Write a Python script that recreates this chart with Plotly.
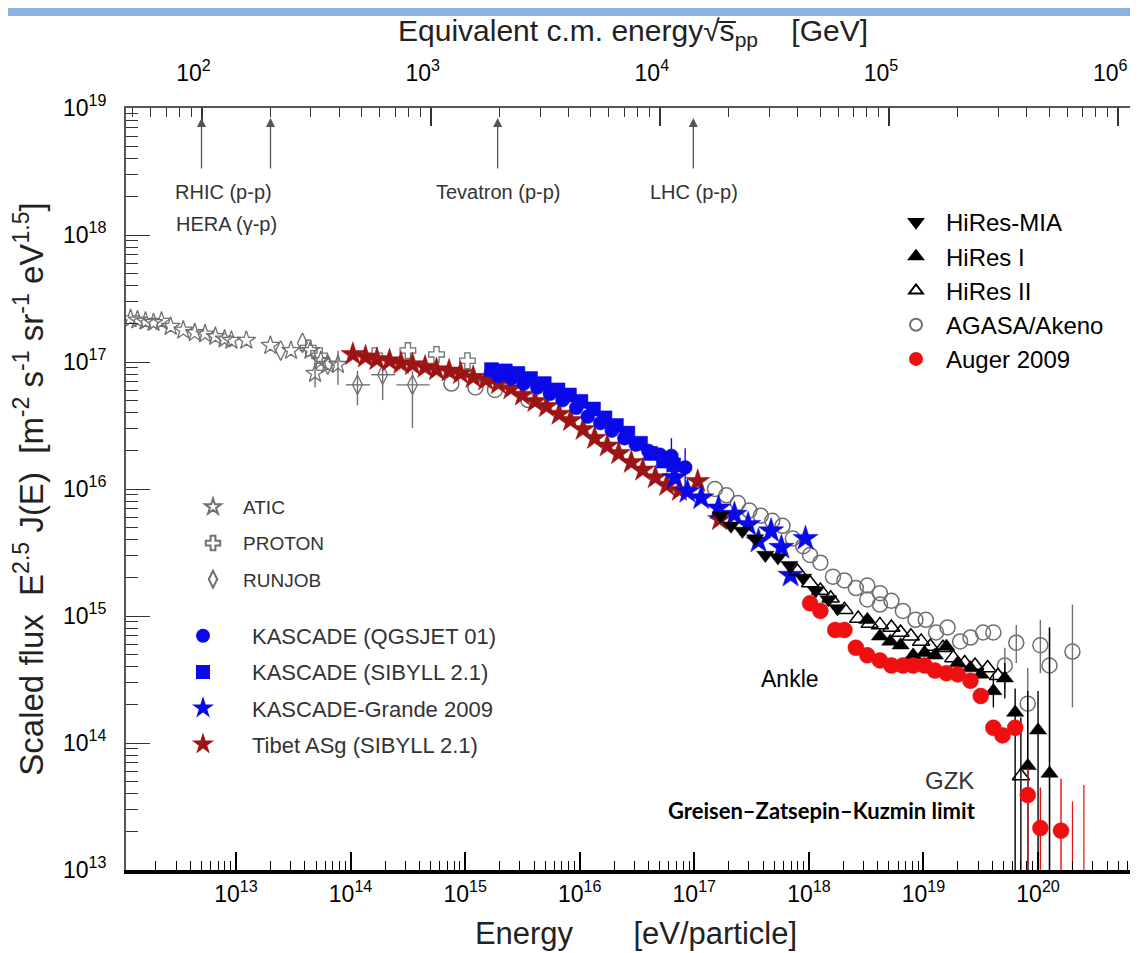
import numpy as np
import plotly.graph_objects as go

# ---------------- data: log10(E / eV) and log10(E^2.5 J(E)) ----------------
atic_logE = [12.08, 12.14, 12.21, 12.28, 12.35, 12.43, 12.54, 12.64, 12.73, 12.82,
             12.90, 12.96, 13.09, 13.30, 13.48, 13.65, 13.69, 13.74, 13.80, 13.89]
atic_logF = [17.34, 17.33, 17.32, 17.31, 17.32, 17.28, 17.25, 17.23, 17.22, 17.20,
             17.18, 17.17, 17.17, 17.13, 17.09, 17.09, 16.91, 17.01, 16.98, 16.98]
atic_hi = [None] * 16 + [17.06, None, None, 17.09]
atic_lo = [None] * 16 + [16.80, None, None, 16.82]

proton_logE = [13.63, 13.73, 14.21, 14.50, 14.75, 15.02]
proton_logF = [17.11, 17.05, 17.05, 17.09, 17.06, 17.01]

runjob_logE = [13.39, 13.58, 13.80, 14.06, 14.28, 14.54]
runjob_logF = [17.09, 17.15, 16.98, 16.82, 16.90, 16.82]
runjob_hi = [None, None, None, 16.93, 16.95, 16.93]
runjob_lo = [None, None, None, 16.66, 16.70, 16.48]
runjob_Ehi = [None, None, None, 14.17, 14.39, 14.69]
runjob_Elo = [None, None, None, 13.96, 14.18, 14.40]

agasa_logE = [14.88, 15.09, 15.26, 15.55,
              17.18, 17.28, 17.38, 17.48, 17.58, 17.68, 17.77, 17.86, 17.95, 18.01,
              18.10, 18.21, 18.31, 18.41, 18.51, 18.51, 18.62, 18.62, 18.72, 18.82,
              18.93, 19.02, 19.11, 19.21, 19.32, 19.41, 19.52, 19.61, 19.71, 19.81,
              19.91, 20.02, 20.10, 20.30]
agasa_logF = [16.83, 16.80, 16.78, 16.70,
              16.00, 15.95, 15.89, 15.83, 15.79, 15.75, 15.71, 15.61, 15.55, 15.48,
              15.42, 15.31, 15.28, 15.22, 15.24, 15.13, 15.18, 15.09, 15.12, 15.04,
              14.97, 14.97, 14.87, 14.91, 14.80, 14.83, 14.87, 14.87, 14.61, 14.79,
              14.31, 14.77, 14.61, 14.72]
agasa_hi = [None] * 32 + [14.75, 14.93, 14.59, 14.97, 14.91, 15.09]
agasa_lo = [None] * 32 + [14.43, 14.63, 12.50, 14.55, 12.50, 14.28]

tibet_logE = [14.02, 14.13, 14.23, 14.34, 14.44, 14.54, 14.65, 14.75, 14.86, 14.96,
              15.07, 15.18, 15.29, 15.40, 15.50, 15.61, 15.71, 15.82, 15.92, 16.03,
              16.13, 16.24, 16.34, 16.45, 16.55, 16.66, 16.76, 16.87, 17.03, 17.22]
tibet_logF = [17.06, 17.04, 17.02, 17.01, 16.99, 16.98, 16.96, 16.94, 16.93, 16.91,
              16.88, 16.86, 16.83, 16.79, 16.74, 16.69, 16.65, 16.59, 16.54, 16.47,
              16.40, 16.34, 16.28, 16.21, 16.15, 16.09, 16.03, 15.99, 16.06, 15.76]

kq_logE = [15.29, 15.40, 15.51, 15.63, 15.74, 15.85, 15.97, 16.07, 16.18, 16.28,
           16.39, 16.49, 16.60, 16.70, 16.80, 16.92]
kq_logF = [16.89, 16.87, 16.83, 16.80, 16.75, 16.70, 16.64, 16.57, 16.52, 16.46,
           16.40, 16.35, 16.30, 16.27, 16.26, 16.17]
kq_hi = [None] * 14 + [16.40, 16.32]
kq_lo = [None] * 14 + [16.09, 16.01]

ks_logE = [15.23, 15.35, 15.46, 15.57, 15.69, 15.81, 15.91, 16.01, 16.12, 16.22,
           16.32, 16.42, 16.53, 16.62, 16.73, 16.82]
ks_logF = [16.94, 16.93, 16.91, 16.87, 16.83, 16.78, 16.74, 16.69, 16.63, 16.56,
           16.50, 16.44, 16.36, 16.28, 16.22, 16.19]

kg_logE = [16.83, 16.94, 17.06, 17.21, 17.35, 17.47, 17.56, 17.67, 17.76, 17.84, 17.97]
kg_logF = [16.09, 15.98, 15.93, 15.85, 15.80, 15.72, 15.59, 15.67, 15.54, 15.32, 15.61]

mia_logE = [17.23, 17.32, 17.42, 17.53, 17.62, 17.73, 17.83, 17.95, 18.06, 18.17, 18.25]
mia_logF = [15.79, 15.71, 15.67, 15.61, 15.48, 15.46, 15.40, 15.30, 15.20, 15.13, 15.06]

h2_logE = [17.90, 18.01, 18.10, 18.19, 18.31, 18.43, 18.53, 18.62, 18.72, 18.80,
           18.89, 18.98, 19.06, 19.17, 19.26, 19.36, 19.45, 19.56, 19.65, 19.85]
h2_logF = [15.35, 15.26, 15.20, 15.14, 15.05, 14.98, 14.94, 14.93, 14.91, 14.87,
           14.84, 14.80, 14.76, 14.75, 14.67, 14.63, 14.61, 14.59, 14.53, 13.74]
h2_hi = [None] * 19 + [14.20]
h2_lo = [None] * 19 + [12.50]

h1_logE = [18.51, 18.62, 18.71, 18.80, 18.91, 19.01, 19.10, 19.20, 19.30, 19.41,
           19.50, 19.61, 19.71, 19.80, 19.91, 20.00, 20.10]
h1_logF = [14.97, 14.84, 14.80, 14.77, 14.69, 14.71, 14.69, 14.76, 14.63, 14.59,
           14.54, 14.41, 14.51, 14.24, 13.82, 14.10, 13.76]
h1_hi = [None] * 11 + [14.55, 14.63, 14.43, 14.41, 14.41, 14.91]
h1_lo = [None] * 11 + [14.28, 14.35, 12.50, 12.50, 12.50, 12.50]

auger_logE = [18.01, 18.10, 18.23, 18.31, 18.41, 18.51, 18.62, 18.72, 18.82, 18.91,
              19.01, 19.10, 19.20, 19.30, 19.41, 19.50, 19.61, 19.69, 19.80, 19.91,
              20.02, 20.20]
auger_logF = [15.10, 15.04, 14.89, 14.89, 14.75, 14.69, 14.65, 14.61, 14.61, 14.61,
              14.61, 14.57, 14.55, 14.54, 14.49, 14.37, 14.12, 14.06, 14.12, 13.59,
              13.33, 13.31]
auger_hi = [None] * 19 + [13.80, 13.65, 13.72]
auger_lo = [None] * 19 + [12.50, 12.50, 12.50]
auger_ul_logE = [20.30, 20.40]
auger_ul_logF = [13.54, 13.67]

collider_names = ["HERA", "RHIC", "Tevatron", "LHC"]
collider_sqrts = [100, 200, 1960, 14000]  # GeV

x_tick_exp = [13, 14, 15, 16, 17, 18, 19, 20]
y_tick_exp = [13, 14, 15, 16, 17, 18, 19]
top_tick_exp = [2, 3, 4, 5, 6]

# ---------------- helpers ----------------
FONT = "Liberation Sans"
MP2 = 2.0  # 2 m_p [GeV], rounded as in the original conversion


def lin(v):
    return [10 ** a for a in v]


def err(logv, hi, lo):
    plus = [None if h is None else 10 ** h - 10 ** f for f, h in zip(logv, hi)]
    minus = [None if l is None else 10 ** f - 10 ** l for f, l in zip(logv, lo)]
    return dict(type="data", symmetric=False, array=plus, arrayminus=minus)


GRAY = "#707070"
DRED = "#9c1515"
BLUE = "#0a0ae8"
RED = "#ee1010"

fig = go.Figure()


def add(name, lx, ly, symbol, color, size, legend, rank, lw=1.3, ey=None, ex=None,
        ecolor=None):
    kw = {}
    if ey is not None:
        kw["error_y"] = dict(ey, color=ecolor or color, thickness=1.4, width=0)
    if ex is not None:
        kw["error_x"] = dict(ex, color=ecolor or color, thickness=1.4, width=0)
    fig.add_trace(go.Scatter(
        x=lin(lx), y=lin(ly), mode="markers", name=name, legend=legend,
        legendrank=rank, legendgroup=name,
        marker=dict(symbol=symbol, size=size, color=color,
                    line=dict(width=lw, color=color)), **kw))


add("ATIC", atic_logE, atic_logF, "star-open", GRAY, 14, "legend2", 1,
    ey=err(atic_logF, atic_hi, atic_lo))
add("PROTON", proton_logE, proton_logF, "cross-open", GRAY, 13, "legend2", 2)
add("RUNJOB", runjob_logE, runjob_logF, "diamond-tall-open", GRAY, 14, "legend2", 3,
    ey=err(runjob_logF, runjob_hi, runjob_lo), ex=err(runjob_logE, runjob_Ehi, runjob_Elo))
add("AGASA/Akeno", agasa_logE, agasa_logF, "circle-open", GRAY, 15, "legend", 4, lw=1.5,
    ey=err(agasa_logF, agasa_hi, agasa_lo))
add("Tibet ASg (SIBYLL 2.1)", tibet_logE, tibet_logF, "star", DRED, 18, "legend3", 4, lw=0.5)
add("KASCADE (QGSJET 01)", kq_logE, kq_logF, "circle", BLUE, 14, "legend3", 1, lw=0.5,
    ey=err(kq_logF, kq_hi, kq_lo))
add("KASCADE (SIBYLL 2.1)", ks_logE, ks_logF, "square", BLUE, 14, "legend3", 2, lw=0.5)
add("KASCADE-Grande 2009", kg_logE, kg_logF, "star", BLUE, 19, "legend3", 3, lw=0.5)
add("HiRes-MIA", mia_logE, mia_logF, "triangle-down", "black", 15, "legend", 1, lw=0.5)
add("HiRes II", h2_logE, h2_logF, "triangle-up-open", "black", 15, "legend", 3, lw=1.5,
    ey=err(h2_logF, h2_hi, h2_lo))
add("HiRes I", h1_logE, h1_logF, "triangle-up", "black", 15, "legend", 2, lw=0.5,
    ey=err(h1_logF, h1_hi, h1_lo))
add("Auger 2009", auger_logE, auger_logF, "circle", RED, 16, "legend", 5, lw=0.5,
    ey=err(auger_logF, auger_hi, auger_lo))

# Auger upper-limit bars (vertical lines down to the axis)
ulx, uly = [], []
for e, f in zip(auger_ul_logE, auger_ul_logF):
    ulx += [10 ** e, 10 ** e, None]
    uly += [10 ** f, 10 ** 12.5, None]
fig.add_trace(go.Scatter(x=ulx, y=uly, mode="lines", line=dict(color=RED, width=1.2),
                         showlegend=False, hoverinfo="skip"))

# ---------------- axes geometry ----------------
W, H = 1138, 953
ML, MR, MT, MB = 118, 0, 100, 91
PW, PH = W - ML - MR, H - MT - MB
x_range = [12.04, 20.942]
top_range = [0.5 * (v - 9 + np.log10(MP2)) for v in x_range]


def px(x):
    return (x - ML) / PW


def py(y):
    return (H - MB - y) / PH


def sup(e):
    return "10<sup>%d</sup>" % e


def minors(lo, hi):
    return [k * 10.0 ** n for n in range(lo, hi) for k in range(2, 10)]


# invisible trace to activate the top axis
fig.add_trace(go.Scatter(x=[10 ** top_range[0]], y=[1e13], xaxis="x2", mode="markers",
                         marker=dict(opacity=0), showlegend=False, hoverinfo="skip"))

axis_font = dict(family=FONT, size=23, color="black")
fig.update_layout(
    width=W, height=H, margin=dict(l=ML, r=MR, t=MT, b=MB, pad=0),
    paper_bgcolor="white", plot_bgcolor="white",
    font=dict(family=FONT, color="black"),
    xaxis=dict(type="log", range=x_range, showgrid=False, zeroline=False,
               tickmode="array", tickvals=[10.0 ** e for e in x_tick_exp],
               ticktext=[sup(e) for e in x_tick_exp], ticks="inside", ticklen=18,
               tickwidth=1.5, tickcolor="black", showline=True, linewidth=4,
               linecolor="black", tickfont=axis_font, ticklabelstandoff=0,
               minor=dict(tickmode="array", tickvals=minors(12, 21), ticks="inside",
                          ticklen=9, tickwidth=1.2, tickcolor="black", showgrid=False),
               title=dict(text="Energy" + "\u00a0" * 7 + "[eV/particle]",
                          font=dict(family=FONT, size=31, color="#222"), standoff=18)),
    xaxis2=dict(type="log", range=top_range, overlaying="x", side="top", anchor="y",
                showgrid=False, zeroline=False, tickmode="array",
                tickvals=[10.0 ** e for e in top_tick_exp],
                ticktext=[sup(e) for e in top_tick_exp], ticks="inside", ticklen=18,
                tickwidth=1.5, tickcolor="#333", showline=True, linewidth=2,
                linecolor="#555", tickfont=axis_font, ticklabelstandoff=16,
                ticklabelshift=-8,
                minor=dict(tickmode="array", tickvals=minors(1, 7), ticks="inside",
                           ticklen=9, tickwidth=1.2, tickcolor="#333", showgrid=False)),
    yaxis=dict(type="log", range=[13, 19], showgrid=False, zeroline=False,
               tickmode="array", tickvals=[10.0 ** e for e in y_tick_exp],
               ticktext=[sup(e) for e in y_tick_exp], ticks="inside", ticklen=24,
               tickwidth=1.3, tickcolor="#333", showline=True, linewidth=2,
               linecolor="#555", tickfont=axis_font, ticklabelstandoff=13,
               minor=dict(tickmode="array", tickvals=minors(13, 19), ticks="inside",
                          ticklen=12, tickwidth=1.1, tickcolor="#333", showgrid=False),
               title=dict(text="Scaled flux\u00a0\u00a0E<sup>2.5</sup> J(E)\u00a0\u00a0"
                               "[m<sup>-2</sup> s<sup>-1</sup> sr<sup>-1</sup> eV<sup>1.5</sup>]",
                          font=dict(family=FONT, size=33, color="#222"), standoff=14)),
    showlegend=True,
    legend=dict(x=px(878), y=py(192), xanchor="left", yanchor="top",
                font=dict(family=FONT, size=24), itemsizing="constant", itemwidth=50,
                tracegroupgap=0, bgcolor="rgba(0,0,0,0)"),
    legend2=dict(x=px(175), y=py(480), xanchor="left", yanchor="top",
                 font=dict(family=FONT, size=19, color="#333"), itemsizing="constant",
                 itemwidth=50, tracegroupgap=8.5, bgcolor="rgba(0,0,0,0)"),
    legend3=dict(x=px(146), y=py(607), xanchor="left", yanchor="top",
                 font=dict(family=FONT, size=22, color="#333"), itemsizing="constant",
                 itemwidth=88, tracegroupgap=4.5, bgcolor="rgba(0,0,0,0)"),
)

# top blue band
fig.add_shape(type="rect", xref="paper", yref="paper", x0=px(0), x1=px(W), y0=py(8),
              y1=py(0), fillcolor="#8db3e2", line=dict(width=0), layer="above")

ann = []


def note(text, x, y, size, color="#333", xanchor="center", family=FONT):
    ann.append(dict(xref="paper", yref="paper", x=px(x), y=py(y), text=text,
                    xanchor=xanchor, yanchor="middle", showarrow=False,
                    font=dict(family=family, size=size, color=color)))


# top title
note("Equivalent c.m. energy\u221as\u0305<sub>pp</sub>\u00a0\u00a0\u00a0\u00a0[GeV]",
     625, 24, 30, "#222")
# collider arrows
for v in collider_sqrts:
    ann.append(dict(xref="x2", yref="paper", x=np.log10(v), y=py(110), ax=0, ay=52,
                    axref="pixel", ayref="pixel", text="", showarrow=True,
                    arrowhead=2, arrowsize=1.4, arrowwidth=1.3, arrowcolor="#555"))
note("RHIC (p-p)", 215, 184, 20)
note("HERA (\u03b3-p)", 218, 216, 20)
note("Tevatron (p-p)", 490, 184, 20)
note("LHC (p-p)", 686, 184, 20)
note("Ankle", 782, 671, 23, "black")
note("GZK", 968, 772, 24, "#333", xanchor="right")
note("<b>Greisen\u2013Zatsepin\u2013Kuzmin limit</b>", 970, 802, 22, "black",
     xanchor="right", family="Lato")
fig.update_layout(annotations=ann)

fig.write_html("out.html")
